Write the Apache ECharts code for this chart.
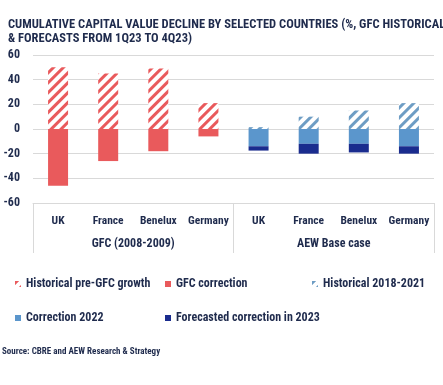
<!DOCTYPE html>
<html><head><meta charset="utf-8">
<script src="https://cdn.jsdelivr.net/npm/echarts@6/dist/echarts.min.js"></script>
<style>html,body{margin:0;padding:0;background:#fff}#c{width:443px;height:385px}</style>
</head><body><div id="c"></div>
<script>
const countries = ['UK','France','Benelux','Germany','UK','France','Benelux','Germany'];
const groups = ['GFC (2008-2009)','AEW Base case'];
const preGfc = [50,45,49,21,'-','-','-','-'];
const gfcCorr = [-46,-26,-18,-6,'-','-','-','-'];
const hist1821 = ['-','-','-','-',1.5,10,15,21];
const corr2022 = ['-','-','-','-',-14,-12,-12,-14];
const fc2023 = ['-','-','-','-',-3.5,-8,-7,-6];

const navy = '#1F2B4D';
const font = '"Roboto Condensed", "Open Sans Condensed", sans-serif';
const red = '#E95A5C', lblue = '#5B96CC', dblue = '#1A2C8E', hblue = '#6E9DC4';
function hatch(c){return {symbol:'rect',color:c,dashArrayX:[1,0],dashArrayY:[2.2,3.3],rotation:-Math.PI/4,symbolSize:1};}
const chart = echarts.init(document.getElementById('c'));
const names = ['Historical pre-GFC growth','GFC correction','Historical 2018-2021','Correction 2022','Forecasted correction in 2023'];
const legPos = [[10,273],[160,273],[307,273],[10,307],[160,307]];
chart.setOption({
  animation:false,
  title:{text:'CUMULATIVE CAPITAL VALUE DECLINE BY SELECTED COUNTRIES (%, GFC HISTORICAL\n& FORECASTS FROM 1Q23 TO 4Q23)',left:3,top:13,
    textStyle:{fontFamily:font,fontWeight:'bold',fontSize:12.5,color:navy,lineHeight:14}},
  graphic:[{type:'text',left:2,top:347,style:{text:'Source: CBRE and AEW Research & Strategy',fontFamily:font,fontWeight:'bold',fontSize:9,fill:navy}}],
  legend: names.map((n,i)=>({data:[n],left:legPos[i][0],top:legPos[i][1],itemWidth:6,itemHeight:6,itemGap:4,
    textStyle:{fontFamily:font,fontSize:12,color:navy,fontWeight:'bold'},icon:'rect'})),
  grid:{left:33,right:9,top:55,bottom:182},
  xAxis:[
    {type:'category',data:countries,position:'bottom',axisLine:{show:false},axisTick:{show:false},
     axisLabel:{interval:0,margin:12,fontFamily:font,fontSize:11.5,fontWeight:'bold',color:navy}},
    {type:'category',data:groups,position:'bottom',axisLine:{show:true,lineStyle:{color:'#D9D9D9'}},
     axisTick:{show:true,length:50,lineStyle:{color:'#D9D9D9'}},
     axisLabel:{interval:0,margin:35,fontFamily:font,fontSize:12,fontWeight:'bold',color:navy}}
  ],
  yAxis:{type:'value',min:-60,max:60,interval:20,axisLine:{show:false},axisTick:{show:false},
    splitLine:{lineStyle:{color:'#D9D9D9'}},
    axisLabel:{margin:13,fontFamily:font,fontSize:12,fontWeight:'bold',color:navy}},
  series:[
    {name:names[0],type:'bar',stack:'a',barWidth:20,data:preGfc,itemStyle:{color:'#FFFFFF',decal:hatch(red)}},
    {name:names[1],type:'bar',stack:'a',barWidth:20,data:gfcCorr,itemStyle:{color:red}},
    {name:names[2],type:'bar',stack:'a',barWidth:20,data:hist1821,itemStyle:{color:'#FFFFFF',decal:hatch(hblue)}},
    {name:names[3],type:'bar',stack:'a',barWidth:20,data:corr2022,itemStyle:{color:lblue}},
    {name:names[4],type:'bar',stack:'a',barWidth:20,data:fc2023,itemStyle:{color:dblue}}
  ]
});
</script></body></html>
